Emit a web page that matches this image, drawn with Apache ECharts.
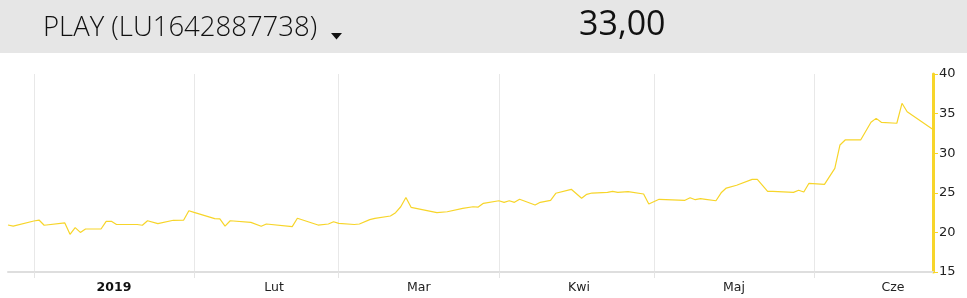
<!DOCTYPE html>
<html><head><meta charset="utf-8">
<script src="https://cdn.jsdelivr.net/npm/echarts@6/dist/echarts.min.js"></script>
<style>html,body{margin:0;padding:0;background:#fff}#c{width:967px;height:298px}</style>
</head><body><div id="c"></div>
<script>
const titleText = 'PLAY (LU1642887738)';
const lastPriceText = '33,00';
const dates = ['2018-12-27','2018-12-28','2019-01-01','2019-01-02','2019-01-03','2019-01-07','2019-01-08','2019-01-09','2019-01-10','2019-01-11',
'2019-01-14','2019-01-15','2019-01-16','2019-01-17','2019-01-21','2019-01-22','2019-01-23','2019-01-25','2019-01-28','2019-01-30',
'2019-01-31','2019-02-01','2019-02-05','2019-02-06','2019-02-07','2019-02-08','2019-02-12','2019-02-14','2019-02-15','2019-02-20',
'2019-02-21','2019-02-25','2019-02-27','2019-02-28','2019-03-01','2019-03-04','2019-03-05','2019-03-07','2019-03-08','2019-03-11',
'2019-03-12','2019-03-13','2019-03-14','2019-03-15','2019-03-20','2019-03-22','2019-03-25','2019-03-27','2019-03-28','2019-03-29',
'2019-04-01','2019-04-02','2019-04-03','2019-04-04','2019-04-05','2019-04-08','2019-04-09','2019-04-11','2019-04-12','2019-04-15',
'2019-04-17','2019-04-18','2019-04-19','2019-04-22','2019-04-23','2019-04-24','2019-04-26','2019-04-29','2019-04-30','2019-05-02',
'2019-05-07','2019-05-08','2019-05-09','2019-05-10','2019-05-11','2019-05-13','2019-05-14','2019-05-15','2019-05-17','2019-05-20',
'2019-05-21','2019-05-23','2019-05-24','2019-05-28','2019-05-29','2019-05-30','2019-05-31','2019-06-03','2019-06-05','2019-06-06',
'2019-06-07','2019-06-10','2019-06-12','2019-06-13','2019-06-14','2019-06-17','2019-06-18','2019-06-19','2019-06-24'];
const prices = [20.93,20.8,21.44,21.56,20.9,21.2,19.76,20.6,20.0,20.43,
20.43,21.4,21.4,21.0,21.0,20.9,21.47,21.1,21.53,21.56,
22.74,22.53,21.73,21.7,20.8,21.47,21.27,20.77,21.06,20.73,
21.78,20.93,21.06,21.35,21.14,21.0,21.06,21.61,21.78,22.07,
22.49,23.24,24.4,23.17,22.49,22.61,23.04,23.24,23.2,23.67,
24.0,23.8,24.0,23.8,24.18,23.46,23.8,24.05,24.94,25.44,
24.31,24.81,24.97,25.06,25.19,25.06,25.14,24.85,23.59,24.18,
24.05,24.38,24.13,24.26,24.18,24.0,25.0,25.6,25.95,26.7,
26.7,25.19,25.19,25.06,25.32,25.1,26.2,26.07,28.09,31.04,
31.67,31.67,33.9,34.4,33.9,33.78,36.3,35.24,33.0];
const monthStarts = ['2019-01-01','2019-02-01','2019-03-01','2019-04-01','2019-05-01','2019-06-01'];
const monthLabelDates = ['2019-01-16 12:00','2019-02-16 12:00','2019-03-16 12:00','2019-04-16 12:00','2019-05-16 12:00','2019-06-16 06:00'];
const monthLabels = ['2019','Lut','Mar','Kwi','Maj','Cze'];
const yTicks = [15,20,25,30,35,40];

function ts(s){ const [d,t] = s.split(' '); const p=d.split('-').map(Number); let h=0,m=0; if(t){[h,m]=t.split(':').map(Number);} return Date.UTC(p[0],p[1]-1,p[2],h,m); }
const labelTs = monthLabelDates.map(ts);
const chart = echarts.init(document.getElementById('c'), null, {renderer:'canvas'});
const yellow = '#f7d52a';
chart.setOption({
  animation:false,
  grid:{left:8,right:34,top:74,bottom:26,containLabel:false},
  graphic:[
    {type:'rect',left:0,top:0,z:-10,shape:{width:967,height:53},style:{fill:'#e6e6e6'}},
    {type:'text',left:43,top:14,style:{text:titleText,font:'300 27.5px "Open Sans"',fill:'#111'}},
    {type:'polygon',shape:{points:[[331,33],[342,33],[336.5,39.5]]},style:{fill:'#111'}},
    {type:'text',left:579,top:8,style:{text:lastPriceText,font:'400 34px "Open Sans"',fill:'#111'}}
  ],
  xAxis:{
    type:'value', min:ts(dates[0]), max:ts(dates[dates.length-1]),
    axisLine:{show:true,lineStyle:{color:'#dedede',width:2}},
    axisTick:{show:true,length:6,lineStyle:{color:'#e4e4e4'},customValues:monthStarts.map(ts)},
    splitLine:{show:true,lineStyle:{color:'#e8e8e8',width:1}},
    axisLabel:{show:true,customValues:labelTs,margin:9,color:'#222',fontFamily:'"DejaVu Sans", Verdana, sans-serif',fontSize:12.5,
      formatter:function(v){const i=labelTs.indexOf(v); const t=monthLabels[i]||''; return i===0?'{b|'+t+'}':t;},
      rich:{b:{fontWeight:'bold',fontFamily:'"DejaVu Sans", Verdana, sans-serif',fontSize:12.5,color:'#111'}}}
  },
  yAxis:{
    type:'value', position:'right', min:15, max:40, interval:5,
    axisLine:{show:true,lineStyle:{color:yellow,width:3}},
    axisTick:{show:true,length:5,lineStyle:{color:yellow,width:1}},
    splitLine:{show:false},
    axisLabel:{margin:6,color:'#222',fontFamily:'"DejaVu Sans", Verdana, sans-serif',fontSize:13,
      formatter:function(v){return yTicks.indexOf(v)>=0?String(v):'';}}
  },
  series:[{type:'line',data:dates.map((d,i)=>[ts(d),prices[i]]),showSymbol:false,symbol:'none',
    lineStyle:{color:yellow,width:1.2},itemStyle:{color:yellow}}]
});
</script></body></html>
